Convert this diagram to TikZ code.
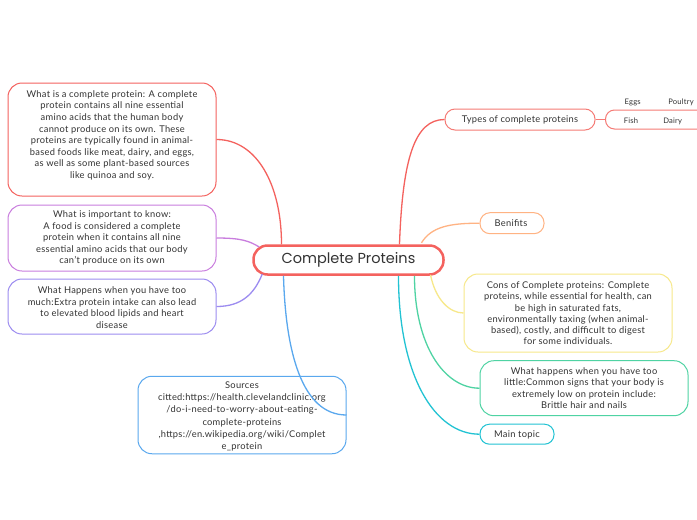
\documentclass[tikz,border=0pt]{standalone}
\usepackage{fontspec}
\setmainfont[LetterSpace=3]{Lato}
\newfontfamily\titlefont{Poppins}
\usetikzlibrary{calc}
\definecolor{ink}{HTML}{333333}
\definecolor{cRed}{HTML}{F4625E}
\definecolor{cRedL}{HTML}{F57B76}
\definecolor{cPurple}{HTML}{C97DDE}
\definecolor{cPeri}{HTML}{9C8CF0}
\definecolor{cBlue}{HTML}{5AA8EE}
\definecolor{cOrange}{HTML}{FFB383}
\definecolor{cYellow}{HTML}{F7E88A}
\definecolor{cGreen}{HTML}{4FD3A3}
\definecolor{cCyan}{HTML}{22C3D3}
\tikzset{
  box/.style={draw, line width=1pt, rounded corners=14pt, inner sep=0pt},
  pill/.style={draw, line width=1pt, inner sep=0pt},
  txt/.style={text=ink, align=center, inner sep=0pt, font=\fontsize{9.3}{11.6}\selectfont},
  small/.style={text=ink, inner sep=0pt, font=\fontsize{7.6}{8}\selectfont},
  link/.style={line width=1.3pt},
}
\begin{document}
\begin{tikzpicture}[x=1pt,y=-1pt]
\useasboundingbox[fill=white] (0,0) rectangle (697,520);

% center
\node[draw=cRed, line width=2.5pt, rounded corners=14pt, minimum width=190pt, minimum height=29pt, inner sep=0pt,
      text=ink, font=\titlefont\fontsize{14.5}{16}\selectfont] (c) at (348.5,260) {Complete Proteins};

% left boxes
\node[box, draw=cRed, minimum width=208pt, minimum height=113pt] (b1) at (112,139.5) {};
\node[txt] (b1t) at (112,135.2) {What is a complete protein: A complete\\
protein contains all nine essential\\
amino acids that the human body\\
cannot produce on its own. These\\
proteins are typically found in animal-\\
based foods like meat, dairy, and eggs,\\
as well as some plant-based sources\\
like quinoa and soy.};

\node[box, draw=cPurple, minimum width=208pt, minimum height=66pt] (b2) at (112,238) {};
\node[txt] (b2t) at (112,238) {What is important to know:\\
A food is considered a complete\\
protein when it contains all nine\\
essential amino acids that our body\\
can’t produce on its own};

\node[box, draw=cPeri, minimum width=208pt, minimum height=55pt] (b3) at (112,306.5) {};
\node[txt] (b3t) at (112,307.5) {What Happens when you have too\\
much:Extra protein intake can also lead\\
to elevated blood lipids and heart\\
disease};

\node[box, draw=cBlue, minimum width=208pt, minimum height=77.5pt] (src) at (242,415) {};
\node[txt, font=\fontsize{9.3}{12.2}\selectfont] (srct) at (242,416.5) {Sources\\
citted:https://health.clevelandclinic.org\\
/do-i-need-to-worry-about-eating-\\
complete-proteins\\
,https://en.wikipedia.org/wiki/Complet\\
e\_protein};

% right boxes
\node[pill, draw=cRedL, rounded corners=10pt, minimum width=150pt, minimum height=21pt] (types) at (520,119.5) {};
\node[txt] (typest) at (520,119.8) {Types of complete proteins};

\node[pill, draw=cRedL, rounded corners=9pt, minimum width=115pt, minimum height=19pt] (sub) at (663,119.5) {};
\node[small] (eggs) at (632.7,102.7) {Eggs};
\node[small] (poultry) at (681,102.7) {Poultry};
\node[small] (fish) at (631,121) {Fish};
\node[small] (dairy) at (672.7,121) {Dairy};

\node[pill, draw=cOrange, rounded corners=10pt, minimum width=64pt, minimum height=21pt] (ben) at (512,223.2) {};
\node[txt] (bent) at (511,223.5) {Benifits};

\node[box, draw=cYellow, minimum width=208pt, minimum height=78pt] (cons) at (568,313) {};
\node[txt, font=\fontsize{9.3}{11.3}\selectfont] (const) at (568,313.3) {Cons of Complete proteins: Complete\\
proteins, while essential for health, can\\
be high in saturated fats,\\
environmentally taxing (when animal-\\
based), costly, and difficult to digest\\
for some individuals.};

\node[box, draw=cGreen, minimum width=208pt, minimum height=55pt] (little) at (584,388.2) {};
\node[txt] (littlet) at (584,388.2) {What happens when you have too\\
little:Common signs that your body is\\
extremely low on protein include:\\
Brittle hair and nails};

\node[pill, draw=cCyan, rounded corners=9.5pt, minimum width=74pt, minimum height=20pt] (main) at (517,434.2) {};
\node[txt] (maint) at (517,434.5) {Main topic};

% connectors
\draw[link, cRed] ($(c.north)+(51,0)$) .. controls +(3,-85) and +(-30,0) .. (types.west);
\draw[link, cRedL] (types.east) -- (sub.west);
\draw[link, cOrange] ($(c.north)+(73,-1.5)$) .. controls +(10,-16) and +(-30,0) .. (ben.west);
\draw[link, cYellow] ($(c.south)+(82,-1)$) .. controls +(5,25) and +(-14,0) .. (cons.west);
\draw[link, cGreen] ($(c.south)+(66,0)$) .. controls +(0,70) and +(-35,0) .. (little.west);
\draw[link, cCyan] ($(c.south)+(50,0)$) .. controls +(0,100) and +(-45,0) .. (main.west);
\draw[link, cBlue] ($(c.south)+(-65,0)$) .. controls +(2,75) and +(-45,0) .. (src.east);
\draw[link, cRed] ($(c.north)+(-67,0)$) .. controls +(0,-60) and +(40,0) .. (b1.east);
\draw[link, cPurple] ($(c.west)+(7,-13)$) .. controls +(-10,-6) and +(25,0) .. (b2.east);
\draw[link, cPeri] ($(c.west)+(10,14)$) .. controls +(-8,20) and +(25,0) .. (b3.east);
\end{tikzpicture}
\end{document}
